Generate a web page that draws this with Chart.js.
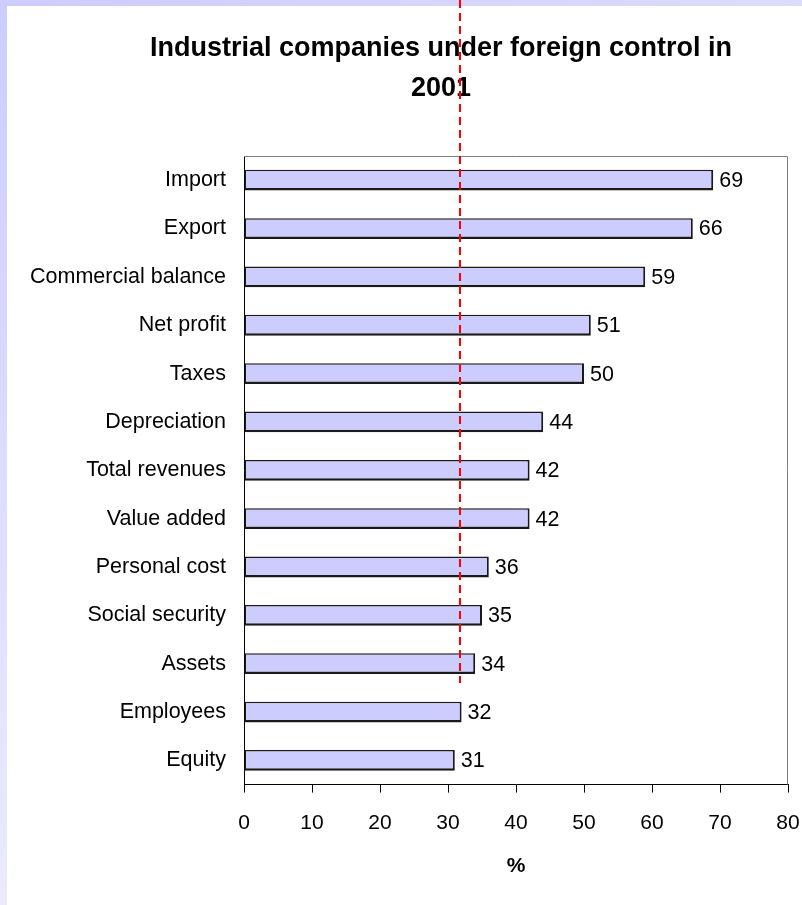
<!DOCTYPE html>
<html lang="en">
<head>
  <meta charset="UTF-8" />
  <title>Industrial companies under foreign control in 2001</title>
  <style>
    html, body { margin: 0; padding: 0; }
    .frame {
      width: 802px;
      height: 905px;
      background:
        linear-gradient(to right, #ccccff, #dcdcfc) top left / 100% 6px no-repeat,
        linear-gradient(to bottom, #ccccff, #ebebfc) top left / 7px 100% no-repeat,
        #ffffff;
    }
    canvas { display: block; }
  </style>
</head>
<body>
  <div class="frame">
    <canvas id="chart" width="802" height="905"></canvas>
  </div>

  <script src="https://cdn.jsdelivr.net/npm/chart.js"></script>
  <script>
    const titleLines = ['Industrial companies under foreign control in', '2001'];
    const categories = ['Import', 'Export', 'Commercial balance', 'Net profit', 'Taxes', 'Depreciation',
      'Total revenues', 'Value added', 'Personal cost', 'Social security', 'Assets', 'Employees', 'Equity'];
    const shares = [69, 66, 59, 51, 50, 44, 42, 42, 36, 35, 34, 32, 31];
    const xTicks = [0, 10, 20, 30, 40, 50, 60, 70, 80];
    const markerValue = 31.8;   // red dashed reference line (in %)
    const markerEnd = 10.4;     // runs down to just below "Assets"

    const FONT = "'Liberation Sans', Arial, sans-serif";

    // two-line bold title above the plot
    const titlePlugin = {
      id: 'titleText',
      afterDraw(chart) {
        const ctx = chart.ctx;
        ctx.save();
        ctx.fillStyle = '#000';
        ctx.font = 'bold 27px ' + FONT;
        ctx.textAlign = 'center';
        ctx.textBaseline = 'alphabetic';
        ctx.fillText(titleLines[0], 441, 56);
        ctx.fillText(titleLines[1], 441, 96);
        ctx.restore();
      }
    };

    // gray top/right edges of the plot box
    const frameBox = {
      id: 'frameBox',
      beforeDatasetsDraw(chart) {
        const { ctx, chartArea: a } = chart;
        ctx.save();
        ctx.strokeStyle = '#808080';
        ctx.lineWidth = 1;
        ctx.beginPath();
        ctx.moveTo(a.left, a.top + 0.5);
        ctx.lineTo(a.right - 0.5, a.top + 0.5);
        ctx.lineTo(a.right - 0.5, a.bottom);
        ctx.stroke();
        ctx.restore();
      }
    };

    // value written after each bar
    const valueLabels = {
      id: 'valueLabels',
      afterDatasetsDraw(chart) {
        const ctx = chart.ctx;
        const meta = chart.getDatasetMeta(0);
        ctx.save();
        ctx.fillStyle = '#000';
        ctx.font = '21.5px ' + FONT;
        ctx.textAlign = 'left';
        ctx.textBaseline = 'middle';
        meta.data.forEach((bar, i) => {
          ctx.fillText(String(shares[i]), bar.x + 6, bar.y + 1);
        });
        ctx.restore();
      }
    };

    // red dashed vertical line from the top of the page
    const markerLine = {
      id: 'markerLine',
      afterDraw(chart) {
        const ctx = chart.ctx;
        const x = Math.round(chart.scales.x.getPixelForValue(markerValue));
        const yEnd = chart.scales.y.getPixelForValue(markerEnd);
        ctx.save();
        ctx.strokeStyle = '#ff0000';
        ctx.lineWidth = 2;
        ctx.setLineDash([8, 5]);
        ctx.beginPath();
        ctx.moveTo(x, 0);
        ctx.lineTo(x, yEnd);
        ctx.stroke();
        ctx.restore();
      }
    };

    new Chart(document.getElementById('chart'), {
      type: 'bar',
      data: {
        labels: categories,
        datasets: [{
          data: shares,
          backgroundColor: '#ccccff',
          borderColor: '#1a1a1a',
          borderWidth: { top: 1.5, left: 1.5, right: 2, bottom: 2.5 },
          borderSkipped: false,
          categoryPercentage: 1,
          barPercentage: 0.43
        }]
      },
      options: {
        indexAxis: 'y',
        responsive: false,
        animation: false,
        layout: { padding: { left: 7, right: 14, top: 156, bottom: 22 } },
        plugins: {
          legend: { display: false },
          title: { display: false },
          tooltip: { enabled: false }
        },
        scales: {
          x: {
            min: 0,
            max: 80,
            afterBuildTicks(scale) {
              scale.ticks = xTicks.map(v => ({ value: v }));
            },
            // end labels may overhang the plot edges
            afterFit(scale) {
              scale.paddingLeft = 0;
              scale.paddingRight = 0;
            },
            grid: {
              drawOnChartArea: false,
              drawTicks: true,
              tickLength: 8,
              color: '#000'
            },
            border: { display: true, color: '#000', width: 1 },
            ticks: {
              color: '#000',
              padding: 18,
              maxRotation: 0,
              font: { family: FONT, size: 21 }
            },
            title: {
              display: true,
              text: '%',
              color: '#000',
              padding: { top: 0, bottom: 4 },
              font: { family: FONT, size: 21, weight: 'bold' }
            }
          },
          y: {
            afterFit(scale) { scale.width = 237; },
            grid: { display: false, drawTicks: false },
            border: { display: true, color: '#000', width: 1 },
            ticks: {
              color: '#000',
              padding: 18,
              font: { family: FONT, size: 21.5 }
            }
          }
        }
      },
      plugins: [titlePlugin, frameBox, valueLabels, markerLine]
    });
  </script>
</body>
</html>
